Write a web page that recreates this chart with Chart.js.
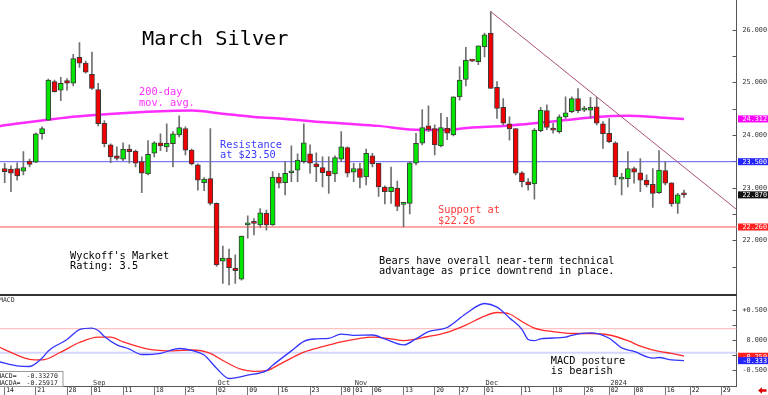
<!DOCTYPE html>
<html>
<head>
<meta charset="utf-8">
<title>March Silver</title>
<script src="https://cdn.jsdelivr.net/npm/chart.js@4.4.1/dist/chart.umd.min.js"></script>
<style>
  html, body { margin: 0; padding: 0; background: #fff; }
  #wrap { position: relative; width: 768px; height: 395px; overflow: hidden; }
  #price { position: absolute; left: 0; top: 0; width: 768px; height: 296px; }
  #macd  { position: absolute; left: 0; top: 296px; width: 768px; height: 99px; }
</style>
</head>
<body>
<div id="wrap">
  <canvas id="price" width="768" height="296"></canvas>
  <canvas id="macd" width="768" height="99"></canvas>
</div>
<script>
// Daily OHLC, day index 0 = Aug 14 (trading days only)
const openP = [23.37,23.36,23.37,23.32,23.51,23.49,24.03,24.29,25.02,24.86,
  25.04,24.99,25.48,25.37,25.16,24.87,24.23,23.82,23.61,23.55,
  23.74,23.70,23.50,23.27,23.66,23.86,23.78,23.84,24.01,24.13,
  23.72,23.44,23.10,23.18,22.71,21.61,21.67,21.48,21.27,22.30,
  22.34,22.30,22.52,22.30,23.21,23.10,23.29,23.34,23.50,23.65,
  23.46,23.39,23.32,23.27,23.55,23.77,23.30,23.37,23.21,23.61,
  23.47,23.02,22.93,23.00,22.69,22.71,23.47,23.85,24.18,24.13,
  23.80,24.14,24.01,24.73,25.06,25.43,25.40,25.68,25.94,24.91,
  24.53,24.22,24.13,23.29,23.12,23.08,24.09,24.47,24.13,24.07,
  24.35,24.45,24.70,24.48,24.48,24.54,24.22,24.04,23.86,23.17,
  23.18,23.37,23.29,23.15,23.07,22.91,23.33,23.10,22.71,22.88];
const highP = [23.47,23.42,23.48,23.69,23.55,24.05,24.16,25.07,25.05,25.10,
  25.08,25.54,25.76,25.41,25.58,24.99,24.28,23.84,23.78,23.86,
  23.82,23.72,23.59,23.90,23.88,24.03,24.22,24.07,24.37,24.16,
  23.74,23.46,23.20,24.13,22.72,21.90,21.84,21.73,22.09,22.47,
  22.42,22.61,22.58,23.31,23.28,23.50,23.80,23.65,24.22,23.82,
  23.67,23.59,23.59,23.61,24.07,23.78,23.47,23.47,23.74,23.66,
  23.47,23.04,23.40,23.13,22.72,23.50,24.04,24.49,24.56,24.20,
  24.42,24.34,24.73,25.30,25.67,25.44,25.70,25.94,26.35,25.02,
  24.70,24.35,24.13,23.31,23.18,24.13,24.53,24.58,24.23,24.39,
  24.73,24.73,24.89,24.55,24.72,24.72,24.26,24.32,23.88,23.28,
  23.69,23.40,23.56,23.25,23.37,23.71,23.50,23.10,22.90,22.96];
const lowP = [23.10,22.93,23.15,23.25,23.40,23.48,23.93,24.28,24.82,24.66,
  24.86,24.94,25.29,25.18,24.87,24.18,23.78,23.48,23.53,23.52,
  23.47,23.40,22.91,23.25,23.59,23.71,23.69,23.40,23.97,23.63,
  23.44,22.96,22.95,22.68,21.51,21.19,21.16,21.19,21.25,22.05,
  22.11,22.25,22.20,22.29,23.00,22.87,23.12,23.12,23.47,23.28,
  23.12,23.02,22.90,23.12,23.50,23.21,23.12,23.00,23.06,23.40,
  22.84,22.70,22.71,22.57,22.26,22.51,23.44,23.82,24.07,23.63,
  23.78,23.92,23.99,24.67,24.94,25.40,25.34,25.49,24.89,24.32,
  24.20,23.91,23.25,23.02,22.96,22.79,24.07,24.11,24.04,24.04,
  24.32,24.43,24.43,24.45,24.32,24.20,23.75,23.86,23.06,22.87,
  23.02,23.09,22.93,23.02,22.63,22.90,23.06,22.65,22.52,22.82];
const closeP = [23.31,23.28,23.23,23.39,23.45,24.03,24.13,25.05,24.83,24.99,
  24.99,25.46,25.37,25.20,24.89,24.22,23.84,23.59,23.56,23.74,
  23.69,23.47,23.28,23.64,23.86,23.80,23.85,24.03,24.15,23.72,
  23.46,23.15,23.17,22.71,21.54,21.67,21.49,21.43,22.09,22.34,
  22.33,22.53,22.30,23.21,23.09,23.28,23.31,23.53,23.86,23.47,
  23.40,23.29,23.23,23.58,23.78,23.28,23.37,23.20,23.66,23.46,
  23.02,22.93,23.02,22.65,22.70,23.48,23.85,24.15,24.11,23.82,
  24.15,24.04,24.73,25.05,25.43,25.41,25.70,25.91,24.89,24.51,
  24.23,24.12,23.28,23.12,23.06,24.10,24.48,24.15,24.10,24.35,
  24.43,24.70,24.47,24.50,24.53,24.23,24.03,23.88,23.21,23.19,
  23.37,23.30,23.15,23.06,22.90,23.34,23.09,22.70,22.87,22.87];

// 200-day moving average, sampled weekly
const maDays = [-1,0,5,10,15,20,25,30,35,40,45,50,55,60,65,70,75,80,85,90,95,100,105,109];
const maVals = [24.17,24.19,24.27,24.34,24.39,24.43,24.46,24.47,24.41,24.35,24.31,24.26,24.22,24.18,24.11,24.10,24.15,24.18,24.23,24.29,24.35,24.37,24.34,24.312];

// downtrend line from the Dec 4 high
const trendDays = [78, 118];
const trendVals = [26.35, 22.54];

const resistance = 23.50;
const support = 22.26;

// MACD (blue) and signal (red)
const macdDays = [-1,2,4,6,7,10,12,14,15,16,18,20,22,25,28,30,32,34,36,37,39,42,43,46,48,50,52,54,56,59,61,64,66,68,71,74,77,79,81,83,84,85,86,90,91,94,97,99,101,104,105,107,109];
const macdVals = [-0.35,-0.42,-0.43,-0.29,-0.17,0.02,0.185,0.21,0.17,0.07,-0.07,-0.14,-0.23,-0.21,-0.13,-0.16,-0.24,-0.46,-0.63,-0.62,-0.575,-0.50,-0.41,-0.17,-0.01,0.03,0.04,0.11,0.09,0.095,0.03,-0.07,0.03,0.15,0.22,0.45,0.62,0.56,0.38,0.19,0.02,0.0,0.03,0.06,0.09,0.13,0.04,-0.12,-0.18,-0.29,-0.28,-0.32,-0.3327];
const sigDays = [-1,2,4,6,9,12,15,17,19,23,27,30,33,35,38,40,42,44,48,51,54,57,59,62,64,68,71,74,77,79,81,83,85,88,91,94,97,100,102,105,107,109];
const sigVals = [-0.10,-0.24,-0.31,-0.32,-0.19,-0.03,0.06,0.06,-0.02,-0.14,-0.17,-0.155,-0.21,-0.33,-0.48,-0.51,-0.50,-0.40,-0.19,-0.10,-0.02,0.04,0.06,0.03,0.0,0.07,0.14,0.26,0.41,0.47,0.445,0.32,0.21,0.15,0.12,0.12,0.095,0.0,-0.09,-0.18,-0.21,-0.25917];
const macdRefs = [0.2, -0.2];

// date row
const dateIdx = [0,5,10,14,19,24,29,34,39,44,49,54,56,59,64,69,73,77,83,88,93,97,101,106,110,115];
const dateLbl = ['14','21','28','01','11','18','25','02','09','16','23','30','01','06','13','20','27','01','11','18','26','02','08','16','22','29'];
const monthIdx = [14,34,56,77,97];
const monthLbl = ['Sep','Oct','Nov','Dec','2024'];

// ---- view ----
const dayMin = -0.754, dayMax = 117.43;
const priceMin = 20.969, priceMax = 26.570;
const macdMin = -0.767, macdMax = 0.745;
const MONO = "'DejaVu Sans Mono', monospace";
const GREEN = '#00e600', RED = '#f00000';

const days = closeP.map((_, i) => i);
const pts = (xs, ys) => xs.map((d, i) => ({ x: d, y: ys[i] }));
const flat = v => [{ x: dayMin - 1, y: v }, { x: dayMax + 1, y: v }];
const onStep = (v, s) => Math.abs(v / s - Math.round(v / s)) < 1e-6;

// free text on the price panel: [text, x, baseline, colour, size]
const priceText = [
  ['March Silver', 142, 45, '#000', 20.3],
  ['200-day', 139, 95, '#ff30ff', 10.3],
  ['mov. avg.', 139, 105.5, '#ff30ff', 10.3],
  ['Resistance', 220, 147.5, '#3a3aff', 10.3],
  ['at $23.50', 220, 158, '#3a3aff', 10.3],
  ['Support at', 438, 213.3, '#ff3a3a', 10.3],
  ['$22.26', 438, 223.8, '#ff3a3a', 10.3],
  ["Wyckoff's Market", 70, 258.5, '#000', 10.3],
  ['Rating: 3.5', 70, 269, '#000', 10.3],
  ['Bears have overall near-term technical', 379, 263.5, '#000', 10.3],
  ['advantage as price downtrend in place.', 379, 274, '#000', 10.3]
];

function valueTag(ctx, a, py, txt, bg) {
  ctx.fillStyle = bg;
  ctx.fillRect(a.right + 1.5, py - 3.5, 30, 7);
  ctx.fillStyle = '#fff';
  ctx.fillText(txt, a.right + 6, py + 0.5);
}

const priceNotes = {
  id: 'priceNotes',
  afterDraw(chart) {
    const { ctx, chartArea: a, scales: { y } } = chart;
    ctx.save();
    ctx.fillStyle = '#333';
    ctx.fillRect(0, 294, a.right, 2);
    ctx.textBaseline = 'alphabetic';
    for (const [t, x, yy, col, size] of priceText) {
      ctx.font = size + 'px ' + MONO;
      ctx.fillStyle = col;
      ctx.fillText(t, x, yy);
    }
    ctx.font = '6.8px ' + MONO;
    ctx.textBaseline = 'middle';
    const last = closeP[closeP.length - 1], ma = maVals[maVals.length - 1];
    [[ma, '#ff00ff'], [resistance, '#2424ff'], [last, '#111'], [support, '#ff2020']]
      .forEach(([v, bg]) => valueTag(ctx, a, y.getPixelForValue(v), v.toFixed(3), bg));
    ctx.restore();
  }
};

const macdNotes = {
  id: 'macdNotes',
  afterDraw(chart) {
    const { ctx, chartArea: a, scales: { x, y } } = chart;
    ctx.save();
    ctx.textBaseline = 'alphabetic';
    ctx.fillStyle = '#000';
    ctx.font = '10.3px ' + MONO;
    ctx.fillText('MACD posture', 550.7, 67.5);
    ctx.fillText('is bearish', 550.7, 78);
    ctx.font = '7px ' + MONO;
    ctx.fillStyle = '#333';
    monthIdx.forEach((d, i) => ctx.fillText(monthLbl[i], x.getPixelForValue(d) + 1, a.bottom - 1.5));
    ctx.textBaseline = 'middle';
    ctx.font = '6.5px ' + MONO;
    ctx.fillText('MACD', -1, 4.5);
    // readout box
    ctx.fillStyle = '#fff';
    ctx.fillRect(0, 75, 63, 15.5);
    ctx.strokeStyle = '#999';
    ctx.lineWidth = 1;
    ctx.strokeRect(-0.5, 75.5, 63.5, 15);
    const m = macdVals[macdVals.length - 1], s = sigVals[sigVals.length - 1];
    ctx.fillStyle = '#222';
    ctx.fillText('MACD=', -3, 80.5);
    ctx.fillText(m.toFixed(5), 26.5, 80.5);
    ctx.fillText('MACDA=', -3, 87);
    ctx.fillText(s.toFixed(5), 26.5, 87);
    // last-value tags
    ctx.font = '6.8px ' + MONO;
    valueTag(ctx, a, y.getPixelForValue(s), s.toFixed(3), '#ff2020');
    valueTag(ctx, a, y.getPixelForValue(m), m.toFixed(3), '#2424ff');
    // little red arrow in the corner
    ctx.fillStyle = '#e00000';
    ctx.beginPath();
    ctx.moveTo(758, 94.5); ctx.lineTo(762, 91.3); ctx.lineTo(762, 93.3);
    ctx.lineTo(766.5, 93.3); ctx.lineTo(766.5, 95.7); ctx.lineTo(762, 95.7);
    ctx.lineTo(762, 97.7); ctx.closePath(); ctx.fill();
    ctx.restore();
  }
};

const base = {
  responsive: false, animation: false, events: [], devicePixelRatio: 1,
  plugins: { legend: { display: false }, tooltip: { enabled: false } }
};

new Chart(document.getElementById('price'), {
  type: 'bar',
  data: {
    datasets: [
      { type: 'line', data: flat(resistance), borderColor: '#5a5aff', borderWidth: 1, pointRadius: 0, order: 5 },
      { type: 'line', data: flat(support), borderColor: '#ff8a8a', borderWidth: 1.5, pointRadius: 0, order: 5 },
      { type: 'line', data: pts(maDays, maVals), borderColor: '#ff2cff', borderWidth: 2.5,
        pointRadius: 0, cubicInterpolationMode: 'monotone', order: 4 },
      { data: days.map(i => ({ x: i, y: [lowP[i], highP[i]] })), backgroundColor: '#707070',
        barThickness: 1, maxBarThickness: 1, grouped: false, order: 3 },
      { data: days.map(i => ({ x: i, y: [openP[i], closeP[i]] })),
        backgroundColor: days.map(i => closeP[i] > openP[i] ? GREEN : RED),
        borderColor: '#3a3a3a', borderWidth: 1, borderSkipped: false,
        barThickness: 5, maxBarThickness: 5, minBarLength: 2, grouped: false, order: 2 },
      { type: 'line', data: pts(trendDays, trendVals), borderColor: '#a8507a', borderWidth: 1, pointRadius: 0, order: 1 }
    ]
  },
  options: {
    ...base,
    layout: { padding: { bottom: 1 } },
    scales: {
      x: { type: 'linear', display: false, min: dayMin, max: dayMax, offset: false },
      y: {
        position: 'right', min: priceMin, max: priceMax,
        afterBuildTicks: s => { s.ticks = s.ticks.filter(t => onStep(t.value, 0.5)); },
        afterFit: s => { s.width = 31.5; s.paddingTop = 0; s.paddingBottom = 0; },
        border: { display: true, color: '#555', width: 1 },
        grid: { drawOnChartArea: false, tickLength: -4, color: '#555' },
        ticks: {
          stepSize: 0.5, autoSkip: false, padding: 10, color: '#333',
          font: { family: MONO, size: 6.8 },
          callback: v => (onStep(v, 1) && v > 21.5) ? v.toFixed(3) : ''
        }
      }
    }
  },
  plugins: [priceNotes]
});

new Chart(document.getElementById('macd'), {
  type: 'line',
  data: {
    datasets: [
      { data: flat(macdRefs[0]), borderColor: '#ffb4b4', borderWidth: 1, order: 4 },
      { data: flat(macdRefs[1]), borderColor: '#d4d4ff', borderWidth: 2, order: 4 },
      { data: pts(sigDays, sigVals), borderColor: '#ff2a2a', borderWidth: 1.3, order: 2 },
      { data: pts(macdDays, macdVals), borderColor: '#3434ff', borderWidth: 1.3, order: 1 }
    ]
  },
  options: {
    ...base,
    elements: { point: { radius: 0 }, line: { cubicInterpolationMode: 'monotone' } },
    scales: {
      x: {
        type: 'linear', min: dayMin, max: dayMax, offset: false,
        afterBuildTicks: s => { s.ticks = dateIdx.map(v => ({ value: v })); },
        afterFit: s => { s.height = 8.3; s.paddingLeft = 0; s.paddingRight = 0; },
        border: { display: true, color: '#555', width: 1 },
        grid: { drawOnChartArea: false, tickLength: 9, color: '#777' },
        ticks: {
          autoSkip: false, maxRotation: 0, minRotation: 0, align: 'start',
          padding: -9, labelOffset: 1.5, color: '#222',
          font: { family: MONO, size: 6.5 },
          callback: (v, i) => dateLbl[i]
        }
      },
      y: {
        position: 'right', min: macdMin, max: macdMax,
        afterBuildTicks: s => { s.ticks = s.ticks.filter(t => onStep(t.value, 0.25)); },
        afterFit: s => { s.width = 31.5; s.paddingTop = 0; s.paddingBottom = 0; },
        border: { display: true, color: '#555', width: 1 },
        grid: { drawOnChartArea: false, tickLength: -4, color: '#555' },
        ticks: {
          stepSize: 0.25, autoSkip: false, padding: 10, color: '#333',
          font: { family: MONO, size: 6.8 },
          callback: v => {
            if (!onStep(v, 0.5)) return '';
            if (Math.abs(v) < 1e-6) return ' 0.000';
            return (v > 0 ? '+' : '') + v.toFixed(3);
          }
        }
      }
    }
  },
  plugins: [macdNotes]
});
</script>
</body>
</html>
